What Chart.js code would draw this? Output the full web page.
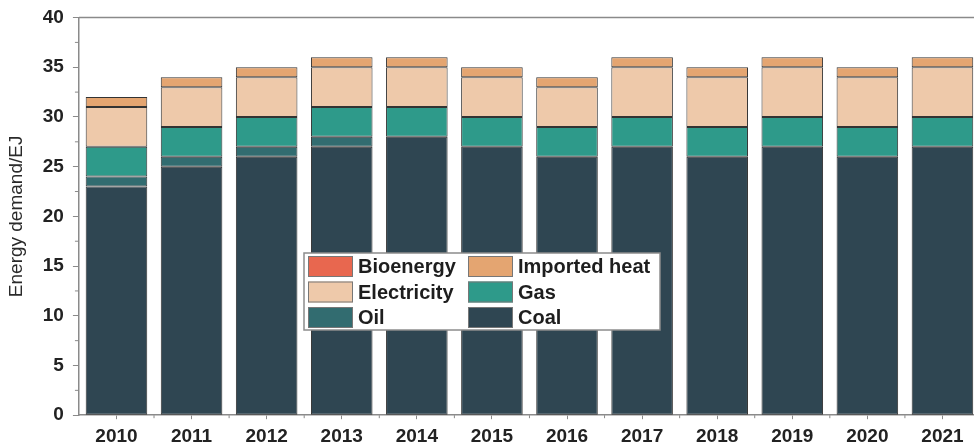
<!DOCTYPE html>
<html>
<head>
<meta charset="utf-8">
<script src="https://cdn.jsdelivr.net/npm/chart.js@4.4.1/dist/chart.umd.min.js"></script>
<style>
  html, body { margin: 0; padding: 0; background: #fff; overflow: hidden; }
  #wrap { width: 981px; height: 446px; }
</style>
</head>
<body>
<div id="wrap"><canvas id="myChart"></canvas></div>
<script>
// energy demand by carrier, EJ
const years = ['2010', '2011', '2012', '2013', '2014', '2015', '2016', '2017', '2018', '2019', '2020', '2021']
const coal = [23, 25, 26, 27, 28, 27, 26, 27, 26, 27, 26, 27]
const oil = [1, 1, 1, 1, 0, 0, 0, 0, 0, 0, 0, 0]
const gas = [3, 3, 3, 3, 3, 3, 3, 3, 3, 3, 3, 3]
const electricity = [4, 4, 4, 4, 4, 4, 4, 5, 5, 5, 5, 5]
const importedHeat = [1, 1, 1, 1, 1, 1, 1, 1, 1, 1, 1, 1]
const bioenergy = [0, 0, 0, 0, 0, 0, 0, 0, 0, 0, 0, 0]
const yTicks = [0, 5, 10, 15, 20, 25, 30, 35, 40]

const colors = {
  'Coal': '#2f4652',
  'Oil': '#326c70',
  'Gas': '#2e9a8a',
  'Electricity': '#eec9aa',
  'Imported heat': '#e4a571',
  'Bioenergy': '#e8674f'
}
// legend reads row by row, two columns
const legendOrder = ['Bioenergy', 'Imported heat', 'Electricity', 'Gas', 'Oil', 'Coal']

function makeSet(label, data) {
  return {
    label: label,
    data: data,
    backgroundColor: colors[label],
    borderColor: '#333333',
    borderWidth: 1,
    borderSkipped: false,
    categoryPercentage: 1,
    barPercentage: 0.82
  }
}

// minor ticks + top frame line
const axisExtras = {
  id: 'axisExtras',
  afterDraw(chart) {
    const ctx = chart.ctx
    const area = chart.chartArea
    const y = chart.scales.y
    const x = chart.scales.x
    ctx.save()
    ctx.strokeStyle = '#8a8a8a'
    ctx.lineWidth = 1.5
    ctx.beginPath()
    ctx.moveTo(area.left, area.top)
    ctx.lineTo(area.right + 2, area.top)
    ctx.stroke()
    ctx.lineWidth = 1
    ctx.beginPath()
    for (let v = 2.5; v < 40; v += 5) {
      let py = y.getPixelForValue(v)
      ctx.moveTo(area.left - 4, py)
      ctx.lineTo(area.left, py)
    }
    for (let i = 0; i < years.length - 1; i++) {
      let px = (x.getPixelForValue(i) + x.getPixelForValue(i + 1)) / 2
      ctx.moveTo(px, area.bottom)
      ctx.lineTo(px, area.bottom + 3)
    }
    ctx.stroke()
    ctx.restore()
  }
}

// boxed legend inside the plot
const boxLegend = {
  id: 'boxLegend',
  afterDraw(chart, args, opts) {
    const ctx = chart.ctx
    ctx.save()
    ctx.fillStyle = '#ffffff'
    ctx.fillRect(opts.left, opts.top, opts.width, opts.height)
    ctx.strokeStyle = '#8c8c8c'
    ctx.lineWidth = 1.5
    ctx.strokeRect(opts.left, opts.top, opts.width, opts.height)
    ctx.font = 'bold 20px Arial, "Liberation Sans", sans-serif'
    ctx.textBaseline = 'middle'
    legendOrder.forEach((name, i) => {
      let col = i % 2
      let row = Math.floor(i / 2)
      let sx = opts.left + 4 + col * opts.colWidth
      let sy = opts.top + 3 + row * opts.rowHeight
      ctx.fillStyle = colors[name]
      ctx.fillRect(sx, sy, 45, 21)
      ctx.strokeStyle = '#777'
      ctx.lineWidth = 1
      ctx.strokeRect(sx + 0.5, sy + 0.5, 44, 20)
      ctx.fillStyle = '#1e1e1e'
      ctx.fillText(name, sx + 50, sy + 11.5)
    })
    ctx.restore()
  }
}

const ctx = document.getElementById('myChart').getContext('2d')
const myChart = new Chart(ctx, {
  type: 'bar',
  data: {
    labels: years,
    datasets: [
      makeSet('Coal', coal),
      makeSet('Oil', oil),
      makeSet('Gas', gas),
      makeSet('Electricity', electricity),
      makeSet('Imported heat', importedHeat),
      makeSet('Bioenergy', bioenergy)
    ]
  },
  options: {
    responsive: true,
    maintainAspectRatio: false,
    animation: false,
    layout: { padding: { top: 6, right: 1, left: 5, bottom: -8 } },
    plugins: {
      legend: { display: false },
      tooltip: { enabled: false },
      boxLegend: { left: 304, top: 253, width: 356, height: 77, colWidth: 160, rowHeight: 25.5 }
    },
    scales: {
      x: {
        stacked: true,
        grid: { offset: false, drawOnChartArea: false, tickLength: 4, color: '#8a8a8a' },
        border: { color: '#8a8a8a', width: 1.5 },
        ticks: {
          color: '#222',
          padding: 6,
          maxRotation: 0,
          font: { family: 'Arial, "Liberation Sans", sans-serif', size: 19, weight: 'bold' }
        }
      },
      y: {
        stacked: true,
        min: 0,
        max: 40,
        afterBuildTicks: (scale) => { scale.ticks = yTicks.map(v => ({ value: v })) },
        grid: { drawOnChartArea: false, tickLength: 6, color: '#8a8a8a' },
        border: { color: '#8a8a8a', width: 1.5 },
        ticks: {
          color: '#222',
          padding: 9,
          font: { family: 'Arial, "Liberation Sans", sans-serif', size: 19, weight: 'bold', lineHeight: 0.9 }
        },
        title: {
          display: true,
          text: 'Energy demand/EJ',
          color: '#2a2a2a',
          padding: { top: 0, bottom: 6 },
          font: { family: 'Arial, "Liberation Sans", sans-serif', size: 19 }
        }
      }
    }
  },
  plugins: [axisExtras, boxLegend]
})
</script>
</body>
</html>
